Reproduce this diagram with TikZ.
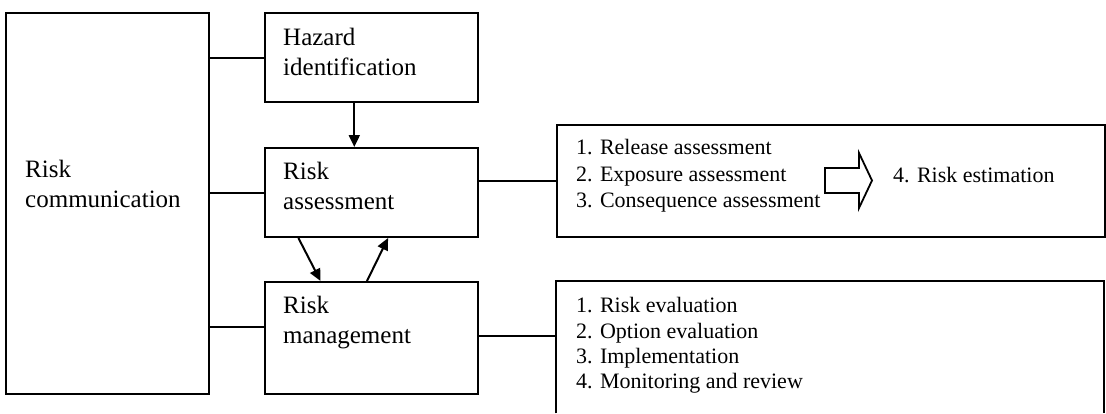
\documentclass[tikz,border=0pt]{standalone}
\usepackage{fontspec}
\setmainfont{Liberation Serif}
\usetikzlibrary{arrows.meta,calc}
\begin{document}
\begin{tikzpicture}[x=1pt,y=-1pt,
  box/.style={draw,line width=2pt,inner sep=0pt,anchor=north west},
  area/.style={inner sep=0pt,anchor=north west},
  big/.style={anchor=base west,inner sep=0pt,font=\fontsize{25}{30}\selectfont},
  small/.style={anchor=base west,inner sep=0pt,font=\fontsize{22}{26}\selectfont},
  conn/.style={line width=2pt},
  arr/.style={line width=2pt,-{Triangle[length=12pt,width=11pt]}},
  blockarrow/.style={line width=1.8pt,line join=miter}]
\useasboundingbox (0,0) rectangle (1106,413);
% boxes
\node[box,minimum width=203pt,minimum height=381pt] (rc) at (5,12) {};
\node[box,minimum width=213pt,minimum height=89pt] (hz) at (264,12) {};
\node[box,minimum width=213pt,minimum height=89pt] (ra) at (264,147) {};
\node[box,minimum width=213pt,minimum height=112pt] (rm) at (264,281) {};
\node[box,minimum width=548pt,minimum height=112pt] (ab) at (556,124) {};
\node[area,minimum width=548pt,minimum height=132pt] (mb) at (556,281) {};
\draw[conn] (mb.south west) -- (mb.north west) -- (mb.north east) -- (mb.south east);
% texts
\node[big] (rct1) at (25,177) {Risk};
\node[big] (rct2) at (25,207) {communication};
\node[big] (hzt1) at (283,45) {Hazard};
\node[big] (hzt2) at (283,75) {identification};
\node[big] (rat1) at (283,179) {Risk};
\node[big] (rat2) at (283,209) {assessment};
\node[big] (rmt1) at (283,313) {Risk};
\node[big] (rmt2) at (283,343) {management};
\node[small] (abt1) at (576,154) {1. Release assessment};
\node[small] (abt2) at (576,181) {2. Exposure assessment};
\node[small] (abt3) at (576,207) {3. Consequence assessment};
\node[small] (abt4) at (893,182) {4. Risk estimation};
\node[small] (mbt1) at (576,312) {1. Risk evaluation};
\node[small] (mbt2) at (576,338) {2. Option evaluation};
\node[small] (mbt3) at (576,363) {3. Implementation};
\node[small] (mbt4) at (576,388) {4. Monitoring and review};
% block arrow
\draw[blockarrow] (825,168) -- (859,168) -- (859,153) -- (872,180.5) -- (859,208) -- (859,193) -- (825,193) -- cycle;
% connectors
\draw[conn] (hz.west) -- (hz.west -| rc.east);
\draw[conn] (ra.west) -- (ra.west -| rc.east);
\coordinate (rmL) at ($(rm.north west)!0.4!(rm.south west)$);
\draw[conn] (rmL) -- (rmL -| rc.east);
\draw[conn] (ab.west) -- (ab.west -| ra.east);
\coordinate (rmR) at ($(rm.north east)!0.48!(rm.south east)$);
\draw[conn] (rmR) -- (rmR -| mb.west);
% arrows
\coordinate (h1) at ($(hz.south west)!0.42!(hz.south east)$);
\draw[arr] (h1) -- (h1 |- ra.north);
\draw[arr] ($(ra.south west)!0.16!(ra.south east)$) -- ($(rm.north west)!0.263!(rm.north east)$);
\draw[arr] ($(rm.north west)!0.479!(rm.north east)$) -- ($(ra.south west)!0.577!(ra.south east)$);
\end{tikzpicture}
\end{document}
